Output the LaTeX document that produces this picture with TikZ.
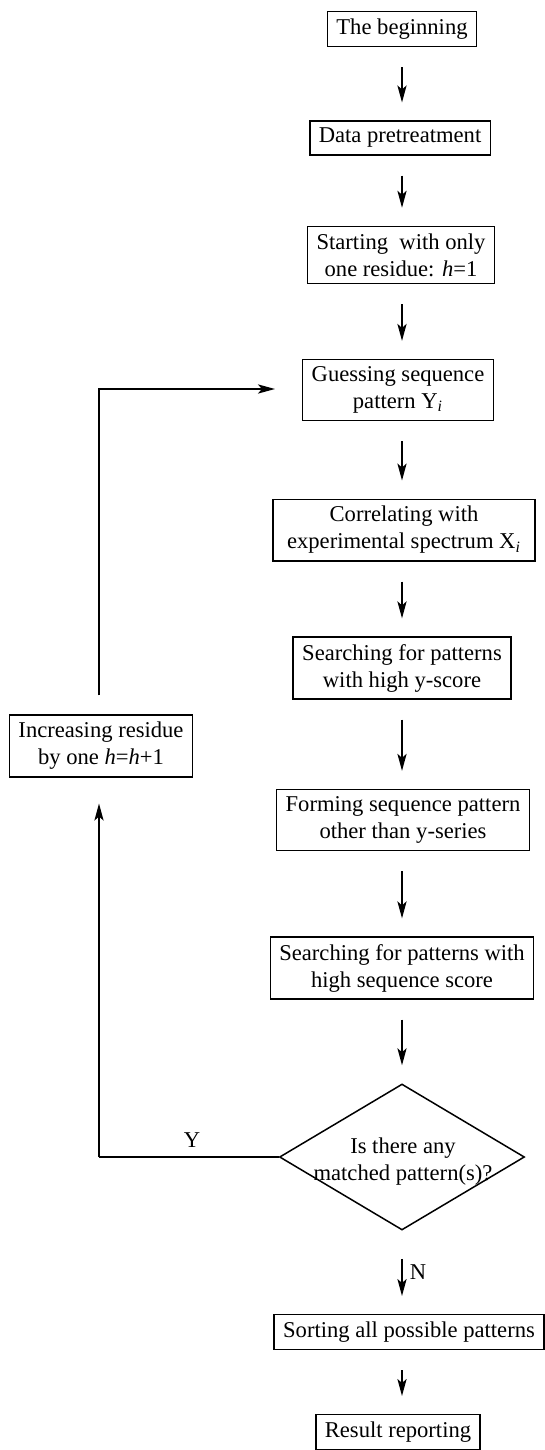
\documentclass[tikz,border=0pt]{standalone}
\usepackage{fontspec}
\setmainfont{Liberation Serif}
\usetikzlibrary{arrows.meta,shapes.geometric}
\begin{document}
\begin{tikzpicture}[x=0.5pt,y=-0.5pt,
  font=\fontsize{11.3}{13.5}\selectfont,
  box/.style={draw, line width=0.75pt, inner xsep=4.5pt, inner ysep=3.5pt, align=center},
  decision/.style={draw, diamond, line width=0.75pt, minimum width=122.5pt, minimum height=73pt, inner sep=0pt},
  arr/.style={-{Stealth[length=8.5pt,width=4.6pt,inset=2pt]}, line width=0.75pt},
  plain/.style={line width=0.75pt}]
\useasboundingbox (0,0) rectangle (545,1450);
\coordinate (col) at (402,0);
% main column
\node[box] (b1) at (402,29) {The beginning};
\node[box] (b2) at (400,138) {Data pretreatment};
\node[box] (b3) at (401,255) {Starting\ \ with only\\one residue: \textit{h}=1};
\node[box] (b4) at (398,390) {Guessing sequence\\pattern Y\textsubscript{\textit{i}}};
\node[box, minimum width=131pt] (b5) at (404,530) {Correlating with\\experimental spectrum X\textsubscript{\textit{i}}};
\node[box] (b6) at (402,668) {Searching for patterns\\with high y-score};
\node[box] (b7) at (403,820) {Forming sequence pattern\\other than y-series};
\node[box] (b8) at (402,968) {Searching for patterns with\\high sequence score};
\node[decision] (d) at (402,1157) {};
\node[align=center] (dt) at (403,1162) {Is there any\\matched pattern(s)?};
\node[box] (b9) at (409,1332) {Sorting all possible patterns};
\node[box] (b10) at (398,1432) {Result reporting};
% loop box
\node[box] (inc) at (101,746) {Increasing residue\\by one \textit{h}=\textit{h}+1};
% straight arrows
\foreach \a/\b in {b1/b2,b2/b3,b3/b4,b4/b5,b5/b6,b6/b7,b7/b8,b8/d,b9/b10}
  \draw[arr, shorten <=10pt, shorten >=9pt] (\a.south -| col) -- (\b.north -| col);
\draw[arr, shorten <=14pt, shorten >=9pt] (d.south) -- (b9.north -| col);
\node (nlab) at (418,1272) {N};
% loop back
\coordinate (yc) at (99,1157);
\coordinate (lc) at (99,389);
\draw[plain] (d.west) -- (yc);
\node (ylab) at (192,1140) {Y};
\draw[arr, shorten >=13pt] (yc) -- (yc |- inc.south);
\draw[arr, shorten <=9.5pt, shorten >=13.5pt] (inc.north -| lc) -- (lc) -- (b4.west |- lc);
\end{tikzpicture}
\end{document}
